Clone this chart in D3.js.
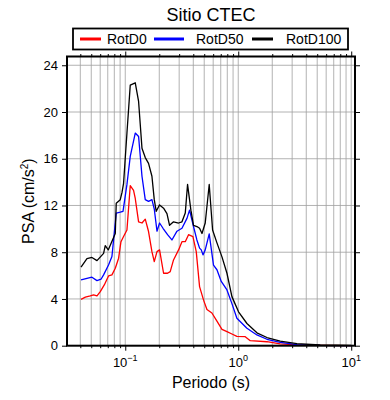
<!DOCTYPE html>
<html>
<head>
<meta charset="utf-8">
<script src="https://cdn.jsdelivr.net/npm/d3@7"></script>
<style>
  body { margin: 0; background: #fff; }
  text { font-family: "Liberation Sans", Arial, sans-serif; fill: #000; }
</style>
</head>
<body>
<div id="container"></div>
<script>
// period (s), PSA (cm/s2)
let rotD0 = [[0.0406,3.97],[0.0443,4.15],[0.049,4.26],[0.0524,4.34],[0.0562,4.26],[0.0601,4.63],[0.0652,5.2],
  [0.0711,5.97],[0.0762,6.06],[0.0816,6.63],[0.0873,7.49],[0.0916,8.9],[0.0966,9.34],[0.1035,9.9],[0.1107,13.7],
  [0.1184,13.3],[0.1226,12.6],[0.1312,10.6],[0.1406,10.5],[0.1503,10.83],[0.1607,9.77],[0.1722,8.05],[0.1806,7.2],
  [0.1909,8.05],[0.2012,8.2],[0.2183,6.2],[0.2368,6.2],[0.25,6.34],[0.2674,7.34],[0.2964,8.2],[0.3176,8.9],
  [0.3397,8.9],[0.3631,9.5],[0.3972,9.34],[0.4249,8.05],[0.4546,5.06],[0.4932,3.9],[0.5284,3.1],[0.5847,2.8],
  [0.6478,2.1],[0.7177,1.4],[0.7946,1.2],[0.879,1.0],[0.9727,0.8],[1.153,0.77],[1.277,0.43],[1.794,0.34],
  [2.353,0.15],[3.306,0.07],[5.32,0.03],[10,0.01]];

let rotD50 = [[0.0406,5.63],[0.0458,5.77],[0.0507,5.86],[0.0562,5.57],[0.061,5.69],[0.0643,6.06],[0.0711,6.9],
  [0.0762,7.63],[0.0832,11.35],[0.0903,11.43],[0.0955,11.5],[0.1035,13.8],[0.1107,16.2],[0.1226,18.2],
  [0.1312,17.9],[0.1406,14.5],[0.1503,12.5],[0.1607,12.35],[0.1722,12.5],[0.1806,11.7],[0.1909,9.8],
  [0.2012,10.5],[0.2158,10.05],[0.2368,9.5],[0.2588,9.05],[0.2869,9.8],[0.3176,10.05],[0.3516,10.9],
  [0.3707,11.6],[0.4018,10.2],[0.4305,9.05],[0.4546,8.35],[0.4708,8.2],[0.4875,7.77],[0.5103,8.2],
  [0.5534,9.57],[0.604,6.9],[0.6478,6.5],[0.7074,5.5],[0.7946,4.77],[0.879,3.6],[0.9727,2.35],[1.194,1.49],
  [1.463,0.92],[1.794,0.55],[2.353,0.29],[3.306,0.1],[5.32,0.03],[10,0.01]];

let rotD100 = [[0.0406,6.72],[0.0458,7.45],[0.0507,7.55],[0.0562,7.28],[0.0643,7.9],[0.0665,8.57],[0.0707,8.2],
  [0.0816,9.6],[0.0832,12.2],[0.0903,12.5],[0.0935,13.1],[0.0966,13.9],[0.1035,18.2],[0.1107,22.3],
  [0.1226,22.5],[0.1312,20.9],[0.1406,16.9],[0.1503,16.1],[0.1607,15.6],[0.1722,14.5],[0.1806,12.5],
  [0.188,11.5],[0.2012,12.05],[0.2183,11.77],[0.2339,11.3],[0.2466,10.3],[0.2674,10.6],[0.2964,10.5],
  [0.3176,10.6],[0.3397,11.35],[0.3559,13.8],[0.3811,11.6],[0.4018,10.3],[0.4305,10.2],[0.4546,10.05],
  [0.4775,9.6],[0.5103,10.5],[0.5534,13.8],[0.5929,9.9],[0.6478,8.8],[0.7177,7.6],[0.7946,6.2],[0.879,4.2],
  [1.006,2.9],[1.194,1.9],[1.463,1.1],[1.794,0.7],[2.353,0.4],[3.306,0.18],[5.32,0.06],[10,0.02]];

let seriesNames = ['RotD0', 'RotD50', 'RotD100'];
let seriesColors = ['#ff0000', '#0000ff', '#000000'];
let yTicks = [0, 4, 8, 12, 16, 20, 24];
let xDecades = [-1, 0, 1];

let plotLeft = 67, plotRight = 355, plotTop = 56.5, plotBottom = 345.7;

let viz = d3.select('#container')
    .append('svg')
    .attr('width', 390)
    .attr('height', 400)
    ;

let x = d3.scaleLog().domain([0.0305, 10.8]).range([plotLeft, plotRight]);
let y = d3.scaleLinear().domain([0, 24.75]).range([plotBottom, plotTop]);

// minor log positions 1..9 x 10^n inside the domain
let minor = [];
[-2, -1, 0, 1].forEach(function (e) {
    for (let m = 1; m < 10; m++) {
        let v = m * Math.pow(10, e);
        if (v >= x.domain()[0] && v <= x.domain()[1]) minor.push(v);
    }
});

// grid
viz.append('g').selectAll('line').data(minor).enter()
    .append('line')
    .attr('x1', d => x(d)).attr('x2', d => x(d))
    .attr('y1', plotTop).attr('y2', plotBottom)
    .attr('stroke', '#a0a0a0').attr('stroke-width', 0.8);

viz.append('g').selectAll('line').data(yTicks.slice(1)).enter()
    .append('line')
    .attr('x1', plotLeft).attr('x2', plotRight)
    .attr('y1', d => y(d)).attr('y2', d => y(d))
    .attr('stroke', '#a0a0a0').attr('stroke-width', 0.8);

// curves
let line = d3.line().x(d => x(d[0])).y(d => y(d[1]));
[rotD0, rotD50, rotD100].forEach(function (s, i) {
    viz.append('path')
        .attr('d', line(s))
        .attr('fill', 'none')
        .attr('stroke', seriesColors[i])
        .attr('stroke-width', 1.3)
        .attr('stroke-linejoin', 'round');
});

// axes (ticks outward on all sides)
let majors = xDecades.map(e => Math.pow(10, e));
function isMajor(d) { return majors.some(m => Math.abs(m - d) < 1e-9); }

let bottomAxis = d3.axisBottom(x).tickValues(minor).tickSizeInner(0).tickSizeOuter(0).tickFormat('');
let gb = viz.append('g').attr('transform', 'translate(0,' + plotBottom + ')').call(bottomAxis);
gb.selectAll('.tick line').attr('y2', d => isMajor(d) ? 5 : 2.5);

let topAxis = d3.axisTop(x).tickValues(minor).tickSizeInner(0).tickSizeOuter(0).tickFormat('');
let gt = viz.append('g').attr('transform', 'translate(0,' + plotTop + ')').call(topAxis);
gt.selectAll('.tick line').attr('y2', d => isMajor(d) ? -5 : -2.5);

let leftAxis = d3.axisLeft(y).tickValues(yTicks).tickSize(5).tickSizeOuter(0).tickPadding(4);
let gl = viz.append('g').attr('transform', 'translate(' + plotLeft + ',0)').call(leftAxis);
gl.selectAll('text').attr('font-size', 13).style('font-family', '"Liberation Sans", Arial, sans-serif');

let rightAxis = d3.axisRight(y).tickValues(yTicks).tickSize(5).tickSizeOuter(0).tickFormat('');
viz.append('g').attr('transform', 'translate(' + plotRight + ',0)').call(rightAxis);

viz.selectAll('.domain').remove();
viz.selectAll('.tick line').attr('stroke', '#000');

// decade labels 10^n
let dl = viz.append('g').selectAll('text').data(xDecades).enter()
    .append('text')
    .attr('x', d => x(Math.pow(10, d)))
    .attr('y', plotBottom + 21)
    .attr('text-anchor', 'middle')
    .attr('font-size', 13);
dl.append('tspan').text('10');
dl.append('tspan').attr('dy', -6).attr('font-size', 9).text(d => d < 0 ? '\u2212' + (-d) : d);

// frame
viz.append('rect')
    .attr('x', plotLeft).attr('y', plotTop)
    .attr('width', plotRight - plotLeft).attr('height', plotBottom - plotTop)
    .attr('fill', 'none').attr('stroke', '#000').attr('stroke-width', 2);

// titles
viz.append('text').attr('x', 211).attr('y', 21).attr('text-anchor', 'middle')
    .attr('font-size', 18).text('Sitio CTEC');

viz.append('text').attr('x', 211).attr('y', 388).attr('text-anchor', 'middle')
    .attr('font-size', 16).text('Periodo (s)');

let yl = viz.append('text')
    .attr('transform', 'translate(34,' + ((plotTop + plotBottom) / 2) + ') rotate(-90)')
    .attr('text-anchor', 'middle')
    .attr('font-size', 16);
yl.append('tspan').text('PSA (cm/s');
yl.append('tspan').attr('dy', -6).attr('font-size', 10).text('2');
yl.append('tspan').attr('dy', 6).text(')');

// legend
viz.append('rect')
    .attr('x', 73).attr('y', 28.5).attr('width', 275).attr('height', 21)
    .attr('fill', '#fff').attr('stroke', '#000').attr('stroke-width', 1.8);

let legX = [80, 154, 252];
let lg = viz.append('g').selectAll('g').data(seriesNames).enter()
    .append('g')
    .attr('transform', (d, i) => 'translate(' + legX[i] + ',39)');
lg.append('line')
    .attr('x1', 0).attr('x2', (d, i) => i == 1 ? 30 : 21)
    .attr('stroke', (d, i) => seriesColors[i]).attr('stroke-width', 3);
lg.append('text')
    .attr('x', (d, i) => i == 1 ? 42 : (i == 0 ? 27 : 34))
    .attr('y', 5)
    .attr('font-size', 14)
    .text(d => d);
</script>
</body>
</html>
